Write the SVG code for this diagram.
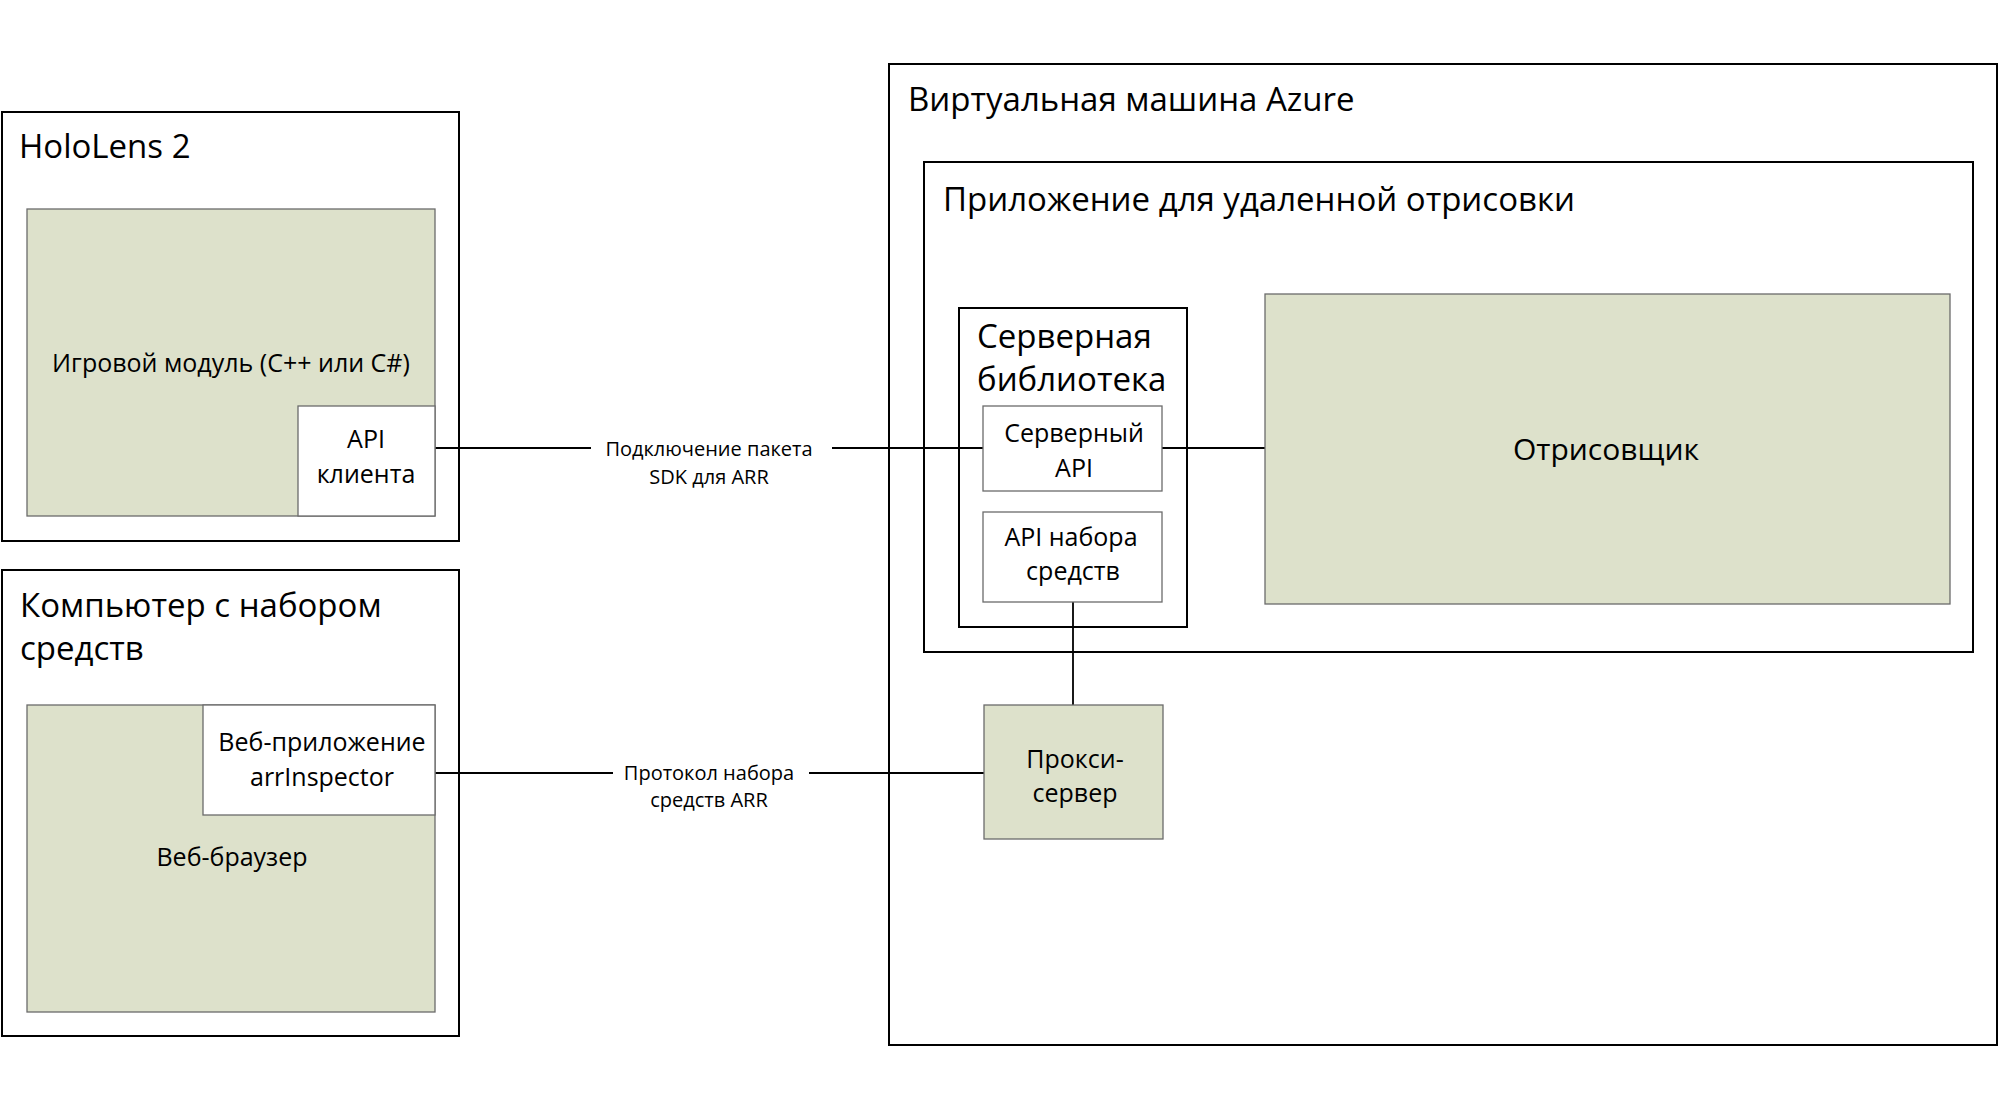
<svg xmlns="http://www.w3.org/2000/svg" width="2000" height="1110" viewBox="0 0 2000 1110">
<style>
  text { font-family: "Open Sans", "Noto Sans", sans-serif; fill: #000; }
  .frame { fill: #fff; stroke: #000; stroke-width: 2; }
  .green { fill: #DDE1CB; stroke: #6b6b6b; stroke-width: 1.3; }
  .white { fill: #fff; stroke: #6b6b6b; stroke-width: 1.3; }
  .title { font-size: 33px; }
  .body { font-size: 25px; text-anchor: middle; }
  .big { font-size: 30px; text-anchor: middle; }
  .lbl { font-size: 20px; text-anchor: middle; }
  .conn { stroke: #000; stroke-width: 1.8; fill: none; }
</style>
<rect width="2000" height="1110" fill="#fff"/>

<g id="hololens">
  <rect class="frame" x="2" y="112" width="457" height="429"/>
  <text class="title" x="19" y="158">HoloLens 2</text>
</g>
<g id="toolpc">
  <rect class="frame" x="2" y="570" width="457" height="466"/>
  <text class="title" x="20" y="617">Компьютер с набором</text>
  <text class="title" x="20" y="660">средств</text>
</g>
<g id="azurevm">
  <rect class="frame" x="889" y="64" width="1108" height="981"/>
  <text class="title" x="908" y="111">Виртуальная машина Azure</text>
</g>
<g id="remoteapp">
  <rect class="frame" x="924" y="162" width="1049" height="490"/>
  <text class="title" x="943" y="211">Приложение для удаленной отрисовки</text>
</g>
<g id="serverlib">
  <rect class="frame" x="959" y="308" width="228" height="319"/>
  <text class="title" x="977" y="348">Серверная</text>
  <text class="title" x="977" y="391">библиотека</text>
</g>

<g id="connectors">
  <line class="conn" x1="435" y1="448" x2="591" y2="448"/>
  <line class="conn" x1="832" y1="448" x2="983" y2="448"/>
  <line class="conn" x1="1162" y1="448" x2="1265" y2="448"/>
  <line class="conn" x1="435" y1="773" x2="613" y2="773"/>
  <line class="conn" x1="809" y1="773" x2="984" y2="773"/>
  <line class="conn" x1="1073" y1="602" x2="1073" y2="705"/>
  <text class="lbl" x="709" y="456">Подключение пакета</text>
  <text class="lbl" x="709" y="484">SDK для ARR</text>
  <text class="lbl" x="709" y="780">Протокол набора</text>
  <text class="lbl" x="709" y="807">средств ARR</text>
</g>

<g id="gameengine">
  <rect class="green" x="27" y="209" width="408" height="307"/>
  <text class="body" x="231" y="372">Игровой модуль (C++ или C#)</text>
</g>
<g id="clientapi">
  <rect class="white" x="298" y="406" width="137" height="110"/>
  <text class="body" x="366" y="448">API</text>
  <text class="body" x="366" y="483">клиента</text>
</g>
<g id="webbrowser">
  <rect class="green" x="27" y="705" width="408" height="307"/>
  <text class="body" x="232" y="866">Веб-браузер</text>
</g>
<g id="arrinspector">
  <rect class="white" x="203" y="705" width="232" height="110"/>
  <text class="body" x="322" y="751" font-size="24.5">Веб-приложение</text>
  <text class="body" x="322" y="786" font-size="24.5">arrInspector</text>
</g>
<g id="serverapi">
  <rect class="white" x="983" y="406" width="179" height="85"/>
  <text class="body" x="1074" y="442">Серверный</text>
  <text class="body" x="1074" y="477">API</text>
</g>
<g id="toolsapi">
  <rect class="white" x="983" y="512" width="179" height="90"/>
  <text class="body" x="1071" y="546">API набора</text>
  <text class="body" x="1073" y="580">средств</text>
</g>
<g id="renderer">
  <rect class="green" x="1265" y="294" width="685" height="310"/>
  <text class="big" x="1606" y="460">Отрисовщик</text>
</g>
<g id="proxy">
  <rect class="green" x="984" y="705" width="179" height="134"/>
  <text class="body" x="1075" y="768" font-size="24">Прокси-</text>
  <text class="body" x="1075" y="802" font-size="24">сервер</text>
</g>
</svg>
